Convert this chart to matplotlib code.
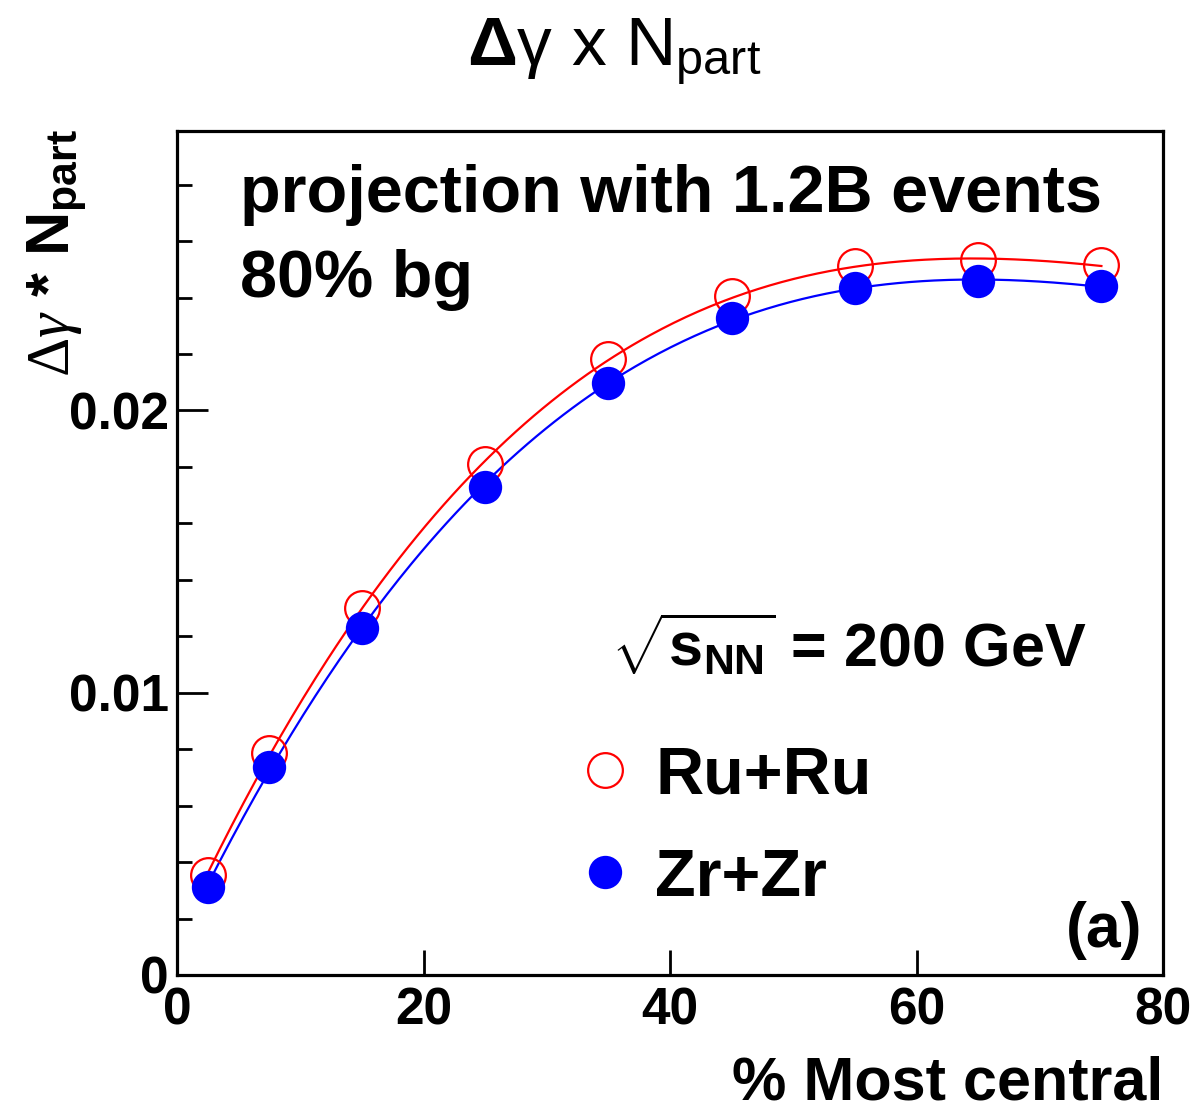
import numpy as np
import matplotlib
matplotlib.use('Agg')
import matplotlib.pyplot as plt
from matplotlib.ticker import MultipleLocator

plt.rcParams['font.family'] = ['Liberation Sans', 'DejaVu Sans']
plt.rcParams['mathtext.fontset'] = 'custom'
plt.rcParams['mathtext.rm'] = 'Liberation Serif'
plt.rcParams['mathtext.it'] = 'Liberation Serif:italic'
plt.rcParams['mathtext.bf'] = 'Liberation Sans:bold'
plt.rcParams['mathtext.sf'] = 'Liberation Sans'

# centrality bins (% most central) and projected values
centrality = [2.5, 7.5, 15, 25, 35, 45, 55, 65, 75]
ru_ru = [0.00355, 0.00787, 0.01301, 0.01809, 0.02181, 0.02404, 0.02511, 0.02532, 0.02514]
zr_zr = [0.00312, 0.00738, 0.01230, 0.01730, 0.02099, 0.02326, 0.02433, 0.02457, 0.02440]

fig = plt.figure(figsize=(11.92, 11.13), dpi=100)
ax = fig.add_axes([0.1485, 0.124, 0.8272, 0.7583])

# smooth polynomial fits through each series
xfit = np.linspace(centrality[0], centrality[-1], 300)
ru_fit = np.polyval(np.polyfit(centrality, ru_ru, 4), xfit)
zr_fit = np.polyval(np.polyfit(centrality, zr_zr, 4), xfit)
ax.plot(xfit, ru_fit, color='#ff0000', lw=1.6, zorder=2)
ax.plot(xfit, zr_fit, color='#0000ff', lw=1.6, zorder=2)

ru = ax.plot(centrality, ru_ru, 'o', ms=25, mfc='none', mec='#ff0000', mew=1.6,
             ls='none', zorder=3, label='Ru+Ru')[0]
zr = ax.plot(centrality, zr_zr, 'o', ms=24, mfc='#0000ff', mec='#0000ff', mew=0,
             ls='none', zorder=4, label='Zr+Zr')[0]

ax.set_xlim(0, 80)
ax.set_ylim(0, 0.0299)
ax.yaxis.set_minor_locator(MultipleLocator(0.002))
ax.set_yticks([0, 0.01, 0.02])
ax.set_yticklabels(['0', '0.01', '0.02'])
ax.set_xticks([0, 20, 40, 60, 80])
ax.set_xticklabels(['0', '20', '40', '60', '80'])

for s in ax.spines.values():
    s.set_linewidth(2.3)
ax.tick_params(axis='both', which='both', direction='in', width=2.0,
               labelsize=37, top=False, right=False)
ax.tick_params(axis='y', which='major', length=22, pad=6)
ax.tick_params(axis='y', which='minor', length=11)
ax.tick_params(axis='x', which='major', length=18, pad=8)
for lbl in ax.get_xticklabels() + ax.get_yticklabels():
    lbl.set_fontweight('bold')

ax.set_xlabel('% Most central', fontsize=44, fontweight='bold', loc='right', labelpad=15)

# y axis title placed by hand at the top left
fig.text(0.048, 0.884, r'$\Delta\gamma$ * N$_{\mathbf{part}}$', fontsize=44,
         fontweight='bold', rotation=90, ha='center', va='top')

fig.text(0.515, 0.954, r'$\mathbf{\Delta}$γ x N$_{\mathsf{part}}$', fontsize=50,
         ha='center', va='center')

ax.text(0.064, 0.904, 'projection with 1.2B events', transform=ax.transAxes,
        fontsize=48, fontweight='bold', va='baseline')
ax.text(0.064, 0.803, '80% bg', transform=ax.transAxes,
        fontsize=48, fontweight='bold', va='baseline')
ax.text(0.44, 0.365, r'$\sqrt{\mathbf{s}_{\mathbf{NN}}}$ = 200 GeV', transform=ax.transAxes,
        fontsize=44, fontweight='bold', va='baseline')
ax.text(0.979, 0.053, '(a)', transform=ax.transAxes,
        fontsize=45, fontweight='bold', ha='right', va='center')

leg = ax.legend(handles=[ru, zr], loc='upper left', bbox_to_anchor=(0.333, 0.343),
                frameon=False, prop={'weight': 'bold', 'size': 48},
                markerscale=1.0, handletextpad=0.15, labelspacing=0.6,
                handlelength=1.2)

fig.savefig('out.png', dpi=100)
